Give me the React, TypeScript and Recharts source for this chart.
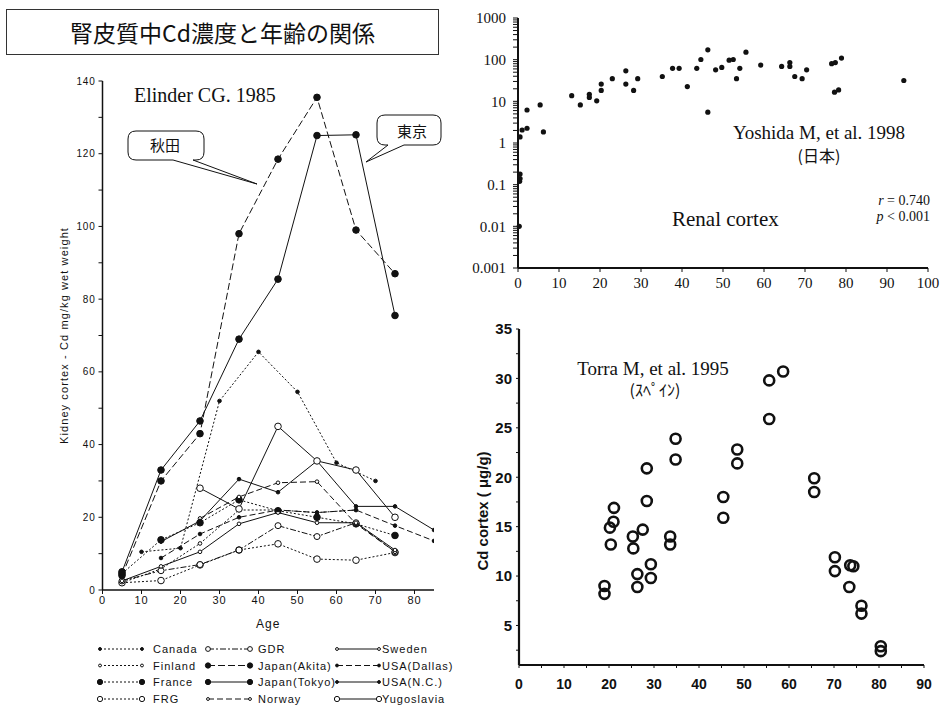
import React from "react"
import { LineChart, Line, XAxis, YAxis, ScatterChart, Scatter } from "recharts"

// ---- Elinder CG. 1985 : [age, Cd mg/kg wet weight]
const CANADA = [[10, 10.5], [20, 11.5], [30, 52], [40, 65.5], [50, 54.5], [60, 35], [70, 30]]
const FINLAND = [[5, 2], [15, 5.8], [25, 12.8], [35, 22], [45, 22], [55, 21.3], [65, 22]]
const FRANCE = [[5, 4.5], [15, 13.8], [25, 18.5], [35, 24.8], [45, 21.8], [55, 20], [65, 18.2], [75, 15]]
const FRG = [[5, 2], [15, 2.6], [25, 6.9], [35, 11], [45, 12.7], [55, 8.5], [65, 8.2], [75, 10.3]]
const GDR = [[5, 2.5], [15, 5.3], [25, 7], [35, 11], [45, 17.7], [55, 14.7], [65, 18.5], [75, 10.5]]
const AKITA = [[5, 4], [15, 30], [25, 43], [35, 98], [45, 118.5], [55, 135.5], [65, 99], [75, 87]]
const TOKYO = [[5, 5], [15, 33], [25, 46.5], [35, 69], [45, 85.5], [55, 125], [65, 125.2], [75, 75.5]]
const NORWAY = [[25, 19.7], [35, 25.6], [45, 29.5], [55, 29.8], [65, 18.2], [75, 10.5]]
const SWEDEN = [[5, 2.5], [15, 6.5], [25, 10.5], [35, 18.2], [45, 21.3], [55, 18.5], [65, 18.5], [75, 11]]
const USA_DALLAS = [[15, 8.8], [25, 15.4], [35, 20], [45, 22], [55, 21.3], [65, 22], [75, 17.7], [85, 13.5]]
const USA_NC = [[15, 13.3], [25, 19], [35, 30.5], [45, 26.9], [55, 35.5], [65, 23], [75, 23], [85, 16.5]]
const YUGOSLAVIA = [[25, 28], [35, 22.3], [45, 45], [55, 35.5], [65, 33], [75, 20]]

const AGE_TICKS = [0, 10, 20, 30, 40, 50, 60, 70, 80]
const KIDNEY_TICKS = [0, 10, 20, 30, 40, 50, 60, 70, 80, 90, 100, 110, 120, 130, 140]

// ---- Yoshida M, et al. 1998 (log scale)
const YOSHIDA_AGE = [0.3, 0.5, 0.5, 0.4, 0.5, 1, 2.2, 2.2, 5.4, 6.2, 13.1, 15.2, 17.4, 17.4, 19.2, 20.3, 20.3, 23, 26.3, 26.3, 28.2, 29.2, 35.2, 37.7, 39.3, 41.3, 43.6, 44.6, 46.3, 46.3, 48.2, 49.7, 51.5, 52.5, 53.3, 54.1, 55.6, 59.2, 64.3, 66.3, 66.3, 67.5, 69.3, 70.4, 76.5, 77.4, 77.2, 78.2, 78.9, 94.1]
const YOSHIDA_CD = [0.01, 0.18, 0.14, 0.12, 1.4, 2.05, 2.26, 6.2, 8.2, 1.84, 13.7, 8.2, 14.8, 12.4, 10.3, 18.3, 25.9, 35, 54, 25.9, 18.3, 35, 39.5, 62, 62, 22.6, 62, 101, 172, 5.5, 57, 65, 97, 101, 35, 62, 151, 74, 69, 85, 69, 39.5, 35, 57, 80, 85, 16.6, 18.8, 109, 31.6]
const DECADES = [0.001, 0.01, 0.1, 1, 10, 100, 1000]
const LOG_TICKS = DECADES.flatMap((d, i) =>
  i < DECADES.length - 1 ? [1, 2, 3, 4, 5, 6, 7, 8, 9].map((k) => +(d * k).toPrecision(3)) : [d]
)
const YOSHIDA_X_TICKS = [0, 10, 20, 30, 40, 50, 60, 70, 80, 90, 100]

// ---- Torra M, et al. 1995
const TORRA_AGE = [19, 19, 20.2, 20.4, 21, 21.1, 25.3, 25.4, 26.3, 26.3, 27.5, 28.4, 28.4, 29.3, 29.3, 33.6, 33.6, 34.8, 34.8, 45.4, 45.4, 48.5, 48.5, 55.6, 55.6, 58.7, 65.6, 65.6, 70.2, 70.2, 73.4, 73.6, 74.3, 76.1, 76.1, 80.4, 80.4]
const TORRA_CD = [9, 8.2, 14.9, 13.2, 15.5, 16.9, 14, 12.8, 10.2, 8.9, 14.7, 17.6, 20.9, 11.2, 9.8, 14, 13.2, 23.9, 21.8, 18, 15.9, 22.8, 21.4, 29.8, 25.9, 30.7, 19.9, 18.5, 11.9, 10.5, 8.9, 11.1, 11, 7, 6.2, 2.9, 2.4]
const TORRA_X_TICKS = [0, 5, 10, 15, 20, 25, 30, 35, 40, 45, 50, 55, 60, 65, 70, 75, 80, 85, 90]
const TORRA_Y_TICKS = [2.5, 5, 7.5, 10, 12.5, 15, 17.5, 20, 22.5, 25, 27.5, 30, 32.5, 35]

type Marker = { r: number; filled: boolean }
type Series = { name: string; pts: number[][]; dash?: string; marker: Marker }

const SERIES: Series[] = [
  { name: "Canada", pts: CANADA, dash: "2 2", marker: { r: 1.8, filled: true } },
  { name: "Finland", pts: FINLAND, dash: "2 2", marker: { r: 1.8, filled: false } },
  { name: "France", pts: FRANCE, dash: "2 2", marker: { r: 3.3, filled: true } },
  { name: "FRG", pts: FRG, dash: "2 2", marker: { r: 3.3, filled: false } },
  { name: "GDR", pts: GDR, dash: "6 2 2 2", marker: { r: 3, filled: false } },
  { name: "Japan(Akita)", pts: AKITA, dash: "7 3", marker: { r: 3.3, filled: true } },
  { name: "Japan(Tokyo)", pts: TOKYO, marker: { r: 3.3, filled: true } },
  { name: "Norway", pts: NORWAY, dash: "6 3", marker: { r: 1.8, filled: false } },
  { name: "Sweden", pts: SWEDEN, marker: { r: 1.8, filled: false } },
  { name: "USA(Dallas)", pts: USA_DALLAS, dash: "6 3", marker: { r: 1.8, filled: true } },
  { name: "USA(N.C.)", pts: USA_NC, marker: { r: 1.8, filled: true } },
  { name: "Yugoslavia", pts: YUGOSLAVIA, marker: { r: 3.3, filled: false } },
]

const INK = "#111"
const SANS = "'Liberation Sans', Arial, sans-serif"
const SERIF = "'Liberation Serif', 'Times New Roman', serif"
const CJK = "'Noto Sans CJK JP', sans-serif"

const dotFor = (m: Marker) => (p: any) => (
  <circle
    key={`d${p.index}`}
    cx={p.cx}
    cy={p.cy}
    r={m.r}
    fill={m.filled ? INK : "#fff"}
    stroke={INK}
    strokeWidth={1}
  />
)

const LEG_LINE_X = [100, 208, 337]
const LEG_TEXT_X = [153, 258, 382]
const LEG_ROW_Y = [9, 25.5, 42, 59]

function ElinderLegend() {
  return (
    <svg width={480} height={70} style={{ position: "absolute", left: 0, top: 640 }}>
      {SERIES.map((s, i) => {
        const col = Math.floor(i / 4)
        const y = LEG_ROW_Y[i % 4]
        const x0 = LEG_LINE_X[col]
        const x1 = x0 + 42
        const fill = s.marker.filled ? INK : "#fff"
        return (
          <g key={s.name}>
            <line x1={x0} y1={y} x2={x1} y2={y} stroke={INK} strokeWidth={1} strokeDasharray={s.dash} />
            <circle cx={x0} cy={y} r={s.marker.r * 0.8} fill={fill} stroke={INK} />
            <circle cx={x1} cy={y} r={s.marker.r * 0.8} fill={fill} stroke={INK} />
            <text x={LEG_TEXT_X[col]} y={y + 4} fontSize={11} letterSpacing={1} fontFamily={SANS} fill={INK}>
              {s.name}
            </text>
          </g>
        )
      })}
    </svg>
  )
}

function Annotations() {
  return (
    <svg width={940} height={710} style={{ position: "absolute", left: 0, top: 0, pointerEvents: "none" }}>
      {/* 秋田 callout */}
      <path
        d="M136,131 H196 Q204,131 204,139 V152 Q204,160 196,160 H193 L257,184 L173,160 H136 Q128,160 128,152 V139 Q128,131 136,131 Z"
        fill="#fff"
        stroke={INK}
        strokeWidth={1}
      />
      <text x={165} y={151} textAnchor="middle" fontSize={15} fontFamily={CJK} fill={INK}>秋田</text>
      {/* 東京 callout */}
      <path
        d="M385,115 H433 Q441,115 441,123 V137 Q441,145 433,145 H404 L366,162 L388,145 H385 Q377,145 377,137 V123 Q377,115 385,115 Z"
        fill="#fff"
        stroke={INK}
        strokeWidth={1}
      />
      <text x={412} y={137} textAnchor="middle" fontSize={15} fontFamily={CJK} fill={INK}>東京</text>

      <text x={134} y={102} fontSize={20} fontFamily={SERIF} fill={INK}>Elinder CG. 1985</text>

      <text x={819} y={139} textAnchor="middle" fontSize={19} fontFamily={SERIF} fill={INK}>Yoshida M, et al. 1998</text>
      <text x={819} y={162} textAnchor="middle" fontSize={16} fontFamily={CJK} fill={INK}>(日本)</text>
      <text x={672} y={226} fontSize={21} fontFamily={SERIF} fill={INK}>Renal cortex</text>
      <text x={930} y={205} textAnchor="end" fontSize={14} fontFamily={SERIF} fill={INK}>
        <tspan fontStyle="italic">r</tspan> = 0.740
      </text>
      <text x={930} y={221} textAnchor="end" fontSize={14} fontFamily={SERIF} fill={INK}>
        <tspan fontStyle="italic">p</tspan> &lt; 0.001
      </text>

      <text x={653} y={375} textAnchor="middle" fontSize={19} fontFamily={SERIF} fill={INK}>Torra M, et al. 1995</text>
      <text x={655} y={396} textAnchor="middle" fontSize={16} fontFamily={CJK} fill={INK}>(ｽﾍﾟｲﾝ)</text>
    </svg>
  )
}

export default function App() {
  const yoshida = YOSHIDA_AGE.map((a, i) => ({ x: a, y: YOSHIDA_CD[i] }))
  const torra = TORRA_AGE.map((a, i) => ({ x: a, y: TORRA_CD[i] }))

  return (
    <div style={{ position: "absolute", left: 0, top: 0, width: 940, height: 710, background: "#fff", fontFamily: SANS }}>
      <div
        style={{
          position: "absolute",
          left: 6,
          top: 9,
          width: 431,
          height: 44,
          border: "1px solid #333",
          display: "flex",
          alignItems: "center",
          justifyContent: "center",
          fontFamily: CJK,
          fontSize: 23,
          color: INK,
        }}
      >
        腎皮質中Cd濃度と年齢の関係
      </div>

      {/* Elinder line chart */}
      <div style={{ position: "absolute", left: 0, top: 60 }}>
        <LineChart width={440} height={600} margin={{ top: 21, right: 6, bottom: 30, left: 0 }}>
          <XAxis
            type="number"
            dataKey="age"
            domain={[0, 85]}
            allowDataOverflow
            ticks={AGE_TICKS}
            interval={0}
            height={40}
            axisLine={{ stroke: INK, strokeWidth: 1.5 }}
            tickLine={{ stroke: INK }}
            tickSize={4}
            tickMargin={2}
            tick={{ fontSize: 11, fill: INK, fontFamily: SANS, letterSpacing: 1 }}
            label={{ value: "Age", position: "insideBottom", offset: 2, fontSize: 12, fill: INK, letterSpacing: 1 }}
          />
          <YAxis
            type="number"
            domain={[0, 140]}
            allowDataOverflow
            ticks={KIDNEY_TICKS}
            interval={0}
            width={102.5}
            axisLine={{ stroke: INK, strokeWidth: 1.5 }}
            tickLine={{ stroke: INK }}
            tickSize={4}
            tickMargin={3}
            tick={{ fontSize: 10, fill: INK, fontFamily: SANS, letterSpacing: 0.8 }}
            tickFormatter={(v: number) => (v % 20 === 0 ? String(v) : "")}
            label={(props: any) => {
              const vb = props.viewBox || { x: 0, y: 21, height: 509 }
              const cx = 64
              const cy = (vb.y ?? 21) + (vb.height ?? 509) / 2
              return (
                <text
                  x={cx}
                  y={cy}
                  transform={`rotate(-90 ${cx} ${cy})`}
                  textAnchor="middle"
                  dominantBaseline="central"
                  fontSize={11}
                  letterSpacing={1.1}
                  fontFamily={SANS}
                  fill={INK}
                >
                  Kidney cortex - Cd mg/kg wet weight
                </text>
              )
            }}
          />
          {SERIES.map((s) => (
            <Line
              key={s.name}
              name={s.name}
              data={s.pts.map(([age, v]) => ({ age, v }))}
              dataKey="v"
              type="linear"
              stroke={INK}
              strokeWidth={1}
              strokeDasharray={s.dash}
              dot={dotFor(s.marker)}
              activeDot={false}
              isAnimationActive={false}
            />
          ))}
        </LineChart>
      </div>
      <ElinderLegend />

      {/* Yoshida log scatter */}
      <div style={{ position: "absolute", left: 440, top: 0 }}>
        <ScatterChart width={500} height={300} margin={{ top: 18, right: 12, bottom: 7, left: 18 }}>
          <XAxis
            type="number"
            dataKey="x"
            domain={[0, 100]}
            ticks={YOSHIDA_X_TICKS}
            interval={0}
            height={25}
            axisLine={{ stroke: INK, strokeWidth: 2 }}
            tickLine={{ stroke: INK }}
            tickSize={4}
            tickMargin={5}
            tick={{ fontSize: 15, fill: INK, fontFamily: SERIF }}
          />
          <YAxis
            type="number"
            dataKey="y"
            scale="log"
            domain={[0.001, 1000]}
            allowDataOverflow
            ticks={LOG_TICKS}
            interval={0}
            width={60}
            axisLine={{ stroke: INK, strokeWidth: 2 }}
            tickLine={{ stroke: INK }}
            tickSize={5}
            tickMargin={7}
            tick={{ fontSize: 15, fill: INK, fontFamily: SERIF }}
            tickFormatter={(v: number) => (DECADES.includes(v) ? String(v) : "")}
          />
          <Scatter
            data={yoshida}
            isAnimationActive={false}
            shape={(p: any) => <circle cx={p.cx} cy={p.cy} r={2.6} fill={INK} />}
          />
        </ScatterChart>
      </div>

      {/* Torra scatter */}
      <div style={{ position: "absolute", left: 440, top: 310 }}>
        <ScatterChart width={500} height={400} margin={{ top: 19, right: 16, bottom: 10, left: 0 }}>
          <XAxis
            type="number"
            dataKey="x"
            domain={[0, 90]}
            ticks={TORRA_X_TICKS}
            interval={0}
            height={35}
            axisLine={{ stroke: INK, strokeWidth: 2.2 }}
            tickLine={{ stroke: INK }}
            tickSize={3}
            tickMargin={11}
            tick={{ fontSize: 14, fontWeight: "bold", fill: INK, fontFamily: SANS }}
            tickFormatter={(v: number) => (v % 10 === 0 ? String(v) : "")}
          />
          <YAxis
            type="number"
            dataKey="y"
            domain={[1, 35]}
            allowDataOverflow
            ticks={TORRA_Y_TICKS}
            interval={0}
            width={79}
            axisLine={{ stroke: INK, strokeWidth: 2.2 }}
            tickLine={{ stroke: INK }}
            tickSize={3}
            tickMargin={4}
            tick={{ fontSize: 15, fontWeight: "bold", fill: INK, fontFamily: SANS }}
            tickFormatter={(v: number) => (v % 5 === 0 ? String(v) : "")}
            label={() => {
              const cx = 42
              const cy = 201
              return (
                <text
                  x={cx}
                  y={cy}
                  transform={`rotate(-90 ${cx} ${cy})`}
                  textAnchor="middle"
                  dominantBaseline="central"
                  fontSize={15}
                  fontWeight="bold"
                  fontFamily={SANS}
                  fill={INK}
                >
                  Cd cortex ( μg/g)
                </text>
              )
            }}
          />
          <Scatter
            data={torra}
            isAnimationActive={false}
            shape={(p: any) => <circle cx={p.cx} cy={p.cy} r={5} fill="none" stroke={INK} strokeWidth={2.6} />}
          />
        </ScatterChart>
      </div>

      <Annotations />
    </div>
  )
}
